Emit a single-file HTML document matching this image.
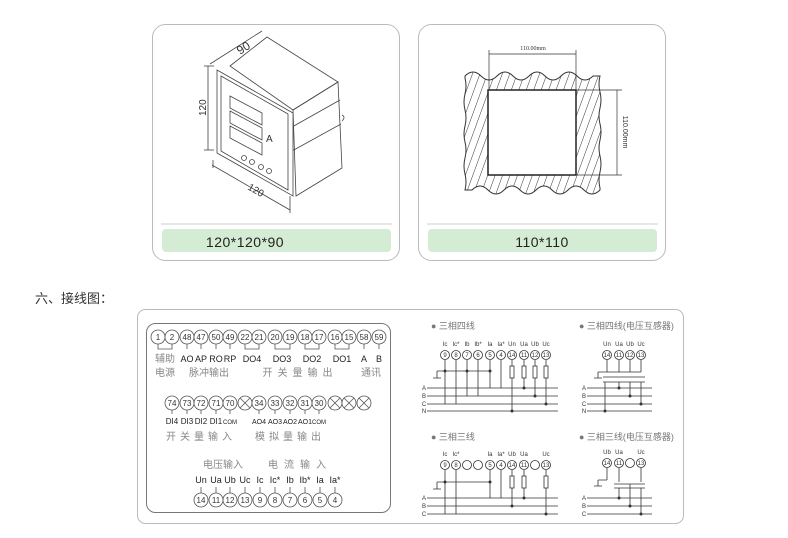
<!DOCTYPE html>
<html><head><meta charset="utf-8"><style>
html,body{margin:0;padding:0;background:#fff;width:788px;height:538px;overflow:hidden}
svg{display:block}
text{font-family:"Liberation Sans","Noto Sans CJK SC",sans-serif}
.n{font-size:8px;text-anchor:middle;fill:#333}
.l{font-size:9px;text-anchor:middle;fill:#222}
.c{font-size:10px;text-anchor:middle;fill:#888}
.s{font-size:6px;text-anchor:middle;fill:#333;font-family:"Liberation Serif",serif}
.t{font-size:9px;fill:#777}
</style></head><body>
<svg width="788" height="538" viewBox="0 0 788 538" xmlns="http://www.w3.org/2000/svg">
<defs>
<pattern id="h" width="7" height="7" patternUnits="userSpaceOnUse" patternTransform="rotate(20)">
<line x1="0" y1="0" x2="0" y2="7" stroke="#333" stroke-width="1"/></pattern>
</defs>
<rect x="152.5" y="24.5" width="247" height="236" rx="13" fill="#fff" stroke="#bbb"/>
<line x1="161" y1="224" x2="392" y2="224" stroke="#ccc"/>
<rect x="162" y="229" width="229" height="23" rx="4" fill="#d3ecd3"/>
<text x="245" y="247" font-size="14" text-anchor="middle" fill="#222" letter-spacing="0.5">120*120*90</text>
<g fill="none" stroke="#444" stroke-width="0.8">
<polygon points="230,66 267,37 338,82 293,110"/>
<polygon points="293,110 338,82 342,168 296,196"/>
<line x1="292" y1="127" x2="340" y2="100"/><line x1="292" y1="151" x2="341" y2="124"/>
<polygon points="217,70 293,113 293,196 217,153" fill="#fff"/>
<polygon points="221,76 288,114 288,190 221,151"/>
<polygon points="230,96 262,113 262,125 230,108"/>
<polygon points="230,111 262,128 262,140 230,123"/>
<polygon points="230,126 262,143 262,155 230,138"/>
<circle cx="244" cy="158" r="2.5"/><circle cx="252" cy="162" r="2.5"/><circle cx="261" cy="167" r="2.5"/><circle cx="269" cy="171" r="2.5"/>
<path d="M342,115 q4,2 0,6"/>
<line x1="210" y1="64" x2="262" y2="31"/>
<line x1="208" y1="66" x2="208" y2="150"/><line x1="204" y1="66" x2="214" y2="66"/><line x1="204" y1="150" x2="214" y2="150"/>
<line x1="212" y1="165" x2="290" y2="210"/><line x1="213" y1="160" x2="213" y2="168"/><line x1="290" y1="196" x2="290" y2="213"/>
</g>
<text x="266" y="142" font-size="10" fill="#333">A</text>
<text x="240" y="55" font-size="12" fill="#333" transform="rotate(-33 240 55)">90</text>
<text x="206" y="116" font-size="10" fill="#333" transform="rotate(-90 206 116)">120</text>
<text x="247" y="189" font-size="10" fill="#333" transform="rotate(30 247 189)">120</text>
<rect x="418.5" y="24.5" width="247" height="236" rx="13" fill="#fff" stroke="#bbb"/>
<line x1="427" y1="224" x2="658" y2="224" stroke="#ccc"/>
<rect x="428" y="229" width="229" height="23" rx="4" fill="#d3ecd3"/>
<text x="542" y="247" font-size="14" text-anchor="middle" fill="#222" letter-spacing="0.5">110*110</text>
<path d="M465,76 q8,-8 16,0 t16,0 t16,0 t16,0 t16,0 t16,0 t16,0 t16,0 L600,76 q-2,8 0,16 t0,16 t0,16 t0,16 t0,16 t0,16 t0,16 L600,190 q-8,8 -16,0 t-16,0 t-16,0 t-16,0 t-16,0 t-16,0 t-16,0 t-16,0 L465,190 q2,-8 0,-16 t0,-16 t0,-16 t0,-16 t0,-16 t0,-16 t0,-16 Z" fill="url(#h)" stroke="#333"/>
<rect x="488" y="90" width="88" height="85" fill="#fff" stroke="#222" stroke-width="1.5"/>
<g stroke="#333" stroke-width="0.7">
<line x1="489" y1="50" x2="489" y2="90"/><line x1="576" y1="50" x2="576" y2="90"/>
<line x1="489" y1="54" x2="576" y2="54"/>
<line x1="576" y1="90" x2="622" y2="90"/><line x1="576" y1="175" x2="622" y2="175"/>
<line x1="617" y1="90" x2="617" y2="175"/>
</g>
<text x="533" y="50" class="s" font-size="7">110.00mm</text>
<text x="623" y="132" font-size="7" fill="#333" text-anchor="middle" font-family="Liberation Serif,serif" transform="rotate(90 623 132)">110.00mm</text>
<text x="35" y="303" font-size="13" fill="#333">六、接线图：</text>
<rect x="137.5" y="309.5" width="546" height="214" rx="8" fill="#fff" stroke="#bbb"/>
<rect x="146.5" y="323.5" width="244" height="189" rx="9" fill="#fff" stroke="#777"/>
<g fill="#fff" stroke="#555" stroke-width="0.8">
<circle cx="158" cy="337" r="7"/><circle cx="172" cy="337" r="7"/><circle cx="187" cy="337" r="7"/><circle cx="201" cy="337" r="7"/><circle cx="216" cy="337" r="7"/><circle cx="230" cy="337" r="7"/><circle cx="245" cy="337" r="7"/><circle cx="259" cy="337" r="7"/><circle cx="275" cy="337" r="7"/><circle cx="290" cy="337" r="7"/><circle cx="305" cy="337" r="7"/><circle cx="319" cy="337" r="7"/><circle cx="335" cy="337" r="7"/><circle cx="349" cy="337" r="7"/><circle cx="364" cy="337" r="7"/><circle cx="379" cy="337" r="7"/>
<circle cx="172" cy="403" r="7"/><circle cx="187" cy="403" r="7"/><circle cx="201" cy="403" r="7"/><circle cx="216" cy="403" r="7"/><circle cx="230" cy="403" r="7"/><circle cx="245" cy="403" r="7"/><circle cx="259" cy="403" r="7"/><circle cx="275" cy="403" r="7"/><circle cx="290" cy="403" r="7"/><circle cx="305" cy="403" r="7"/><circle cx="319" cy="403" r="7"/><circle cx="335" cy="403" r="7"/><circle cx="349" cy="403" r="7"/><circle cx="364" cy="403" r="7"/>
<circle cx="201" cy="500" r="7"/><circle cx="216" cy="500" r="7"/><circle cx="230" cy="500" r="7"/><circle cx="245" cy="500" r="7"/><circle cx="260" cy="500" r="7"/><circle cx="275" cy="500" r="7"/><circle cx="290" cy="500" r="7"/><circle cx="305" cy="500" r="7"/><circle cx="320" cy="500" r="7"/><circle cx="335" cy="500" r="7"/>
</g>
<g stroke="#555" stroke-width="0.8" fill="none">
<path d="M240,398 l10,10 M250,398 l-10,10 M330,398 l10,10 M340,398 l-10,10 M344,398 l10,10 M354,398 l-10,10 M359,398 l10,10 M369,398 l-10,10"/>
<path d="M158,344v5h14v-5 M187,344v5 M201,344v5 M216,344v5 M230,344v5 M245,344v5h14v-5 M275,344v5h15v-5 M305,344v5h14v-5 M335,344v5h14v-5 M364,344v5 M379,344v5"/>
<path d="M172,410v4 M187,410v4 M201,410v4 M216,410v4 M230,410v4 M259,410v4 M275,410v4 M290,410v4 M305,410v4 M319,410v4"/>
<path d="M201,487v6 M216,487v6 M230,487v6 M245,487v6 M260,487v6 M275,487v6 M290,487v6 M305,487v6 M320,487v6 M335,487v6"/>
</g>
<g class="n">
<text x="158" y="340">1</text><text x="172" y="340">2</text><text x="187" y="340">48</text><text x="201" y="340">47</text><text x="216" y="340">50</text><text x="230" y="340">49</text><text x="245" y="340">22</text><text x="259" y="340">21</text><text x="275" y="340">20</text><text x="290" y="340">19</text><text x="305" y="340">18</text><text x="319" y="340">17</text><text x="335" y="340">16</text><text x="349" y="340">15</text><text x="364" y="340">58</text><text x="379" y="340">59</text>
<text x="172" y="406">74</text><text x="187" y="406">73</text><text x="201" y="406">72</text><text x="216" y="406">71</text><text x="230" y="406">70</text><text x="259" y="406">34</text><text x="275" y="406">33</text><text x="290" y="406">32</text><text x="305" y="406">31</text><text x="319" y="406">30</text>
<text x="201" y="503">14</text><text x="216" y="503">11</text><text x="230" y="503">12</text><text x="245" y="503">13</text><text x="260" y="503">9</text><text x="275" y="503">8</text><text x="290" y="503">7</text><text x="305" y="503">6</text><text x="320" y="503">5</text><text x="335" y="503">4</text>
</g>
<g class="l">
<text x="165" y="362" fill="#888" font-size="10">辅助</text><text x="187" y="362">AO</text><text x="201" y="362">AP</text><text x="216" y="362">RO</text><text x="230" y="362">RP</text><text x="252" y="362">DO4</text><text x="282" y="362">DO3</text><text x="312" y="362">DO2</text><text x="342" y="362">DO1</text><text x="364" y="362">A</text><text x="379" y="362">B</text>
<text x="172" y="424" font-size="8">DI4</text><text x="187" y="424" font-size="8">DI3</text><text x="201" y="424" font-size="8">DI2</text><text x="216" y="424" font-size="8">DI1</text><text x="230" y="424" font-size="6">COM</text>
<text x="259" y="424" font-size="7">AO4</text><text x="275" y="424" font-size="7">AO3</text><text x="290" y="424" font-size="7">AO2</text><text x="305" y="424" font-size="7">AO1</text><text x="319" y="424" font-size="6">COM</text>
<text x="201" y="483">Un</text><text x="216" y="483">Ua</text><text x="230" y="483">Ub</text><text x="245" y="483">Uc</text><text x="260" y="483">Ic</text><text x="275" y="483">Ic*</text><text x="290" y="483">Ib</text><text x="305" y="483">Ib*</text><text x="320" y="483">Ia</text><text x="335" y="483">Ia*</text>
</g>
<g class="c">
<text x="165" y="376">电源</text><text x="209" y="376">脉冲输出</text><text x="300" y="376" letter-spacing="5">开关量输出</text><text x="371" y="376">通讯</text>
<text x="201" y="440" letter-spacing="4">开关量输入</text><text x="290" y="440" letter-spacing="4">模拟量输出</text>
<text x="223" y="468">电压输入</text><text x="300" y="468" letter-spacing="6">电流输入</text>
</g>
<g class="t">
<text x="431" y="329">● 三相四线</text><text x="579" y="329">● 三相四线(电压互感器)</text>
<text x="431" y="440">● 三相三线</text><text x="579" y="440">● 三相三线(电压互感器)</text>
</g>
<g stroke="#333" stroke-width="0.8" fill="none">
<path d="M427,388H558 M427,396H558 M427,404H558 M427,411H558"/>
<g fill="#fff"><circle cx="445" cy="355" r="4.5"/><circle cx="456" cy="355" r="4.5"/><circle cx="467" cy="355" r="4.5"/><circle cx="478" cy="355" r="4.5"/><circle cx="490" cy="355" r="4.5"/><circle cx="501" cy="355" r="4.5"/><circle cx="512" cy="355" r="4.5"/><circle cx="524" cy="355" r="4.5"/><circle cx="535" cy="355" r="4.5"/><circle cx="546" cy="355" r="4.5"/></g>
<path d="M445,360V404 M456,360V404 M467,360V396 M478,360V396 M490,360V388 M501,360V388 M445,371H490 M437,371H445 M437,371v7 M433,378h8"/>
<path d="M512,360V411 M524,360V388 M535,360V396 M546,360V404"/>
<g fill="#fff"><rect x="510" y="366" width="4" height="12"/><rect x="522" y="366" width="4" height="12"/><rect x="533" y="366" width="4" height="12"/><rect x="544" y="366" width="4" height="12"/></g>
<path d="M587,388H652 M587,396H652 M587,404H652 M587,411H652"/>
<g fill="#fff"><circle cx="607" cy="355" r="4.5"/><circle cx="619" cy="355" r="4.5"/><circle cx="630" cy="355" r="4.5"/><circle cx="641" cy="355" r="4.5"/></g>
<path d="M607,360V372 M619,360V372 M630,360V372 M641,360V372 M598,372H641 M598,372v6 M594,378h8 M603,377H645 M603,382H645 M605,382V411 M619,382V388 M630,382V396 M641,382V404"/>
<path d="M427,498H558 M427,506H558 M427,514H558"/>
<g fill="#fff"><circle cx="445" cy="465" r="4.5"/><circle cx="456" cy="465" r="4.5"/><circle cx="467" cy="465" r="4.5"/><circle cx="478" cy="465" r="4.5"/><circle cx="490" cy="465" r="4.5"/><circle cx="501" cy="465" r="4.5"/><circle cx="512" cy="465" r="4.5"/><circle cx="524" cy="465" r="4.5"/><circle cx="535" cy="465" r="4.5"/><circle cx="546" cy="465" r="4.5"/></g>
<path d="M445,470V514 M456,470V514 M490,470V498 M501,470V498 M445,482H490 M437,482v7 M433,489h8 M437,482H445 M512,470V506 M524,470V498 M546,470V514"/>
<g fill="#fff"><rect x="510" y="476" width="4" height="12"/><rect x="522" y="476" width="4" height="12"/><rect x="544" y="476" width="4" height="12"/></g>
<path d="M587,498H652 M587,506H652 M587,514H652"/>
<g fill="#fff"><circle cx="607" cy="463" r="4.5"/><circle cx="619" cy="463" r="4.5"/><circle cx="630" cy="463" r="4.5"/><circle cx="641" cy="463" r="4.5"/></g>
<path d="M607,468V480 M619,468V482 M641,468V482 M598,480H607 M598,480v6 M594,486h8 M619,488V498 M630,484V506 M641,488V514 M614,488H645 M614,484H645"/>
</g>
<g fill="#333">
<circle cx="445" cy="371" r="1.5"/><circle cx="467" cy="371" r="1.5"/><circle cx="490" cy="371" r="1.5"/><circle cx="512" cy="411" r="1.5"/><circle cx="524" cy="388" r="1.5"/><circle cx="535" cy="396" r="1.5"/><circle cx="546" cy="404" r="1.5"/>
<circle cx="605" cy="411" r="1.5"/><circle cx="619" cy="388" r="1.5"/><circle cx="630" cy="396" r="1.5"/><circle cx="641" cy="404" r="1.5"/>
<circle cx="445" cy="482" r="1.5"/><circle cx="490" cy="482" r="1.5"/><circle cx="512" cy="506" r="1.5"/><circle cx="524" cy="498" r="1.5"/><circle cx="546" cy="514" r="1.5"/>
<circle cx="619" cy="498" r="1.5"/><circle cx="630" cy="506" r="1.5"/><circle cx="641" cy="514" r="1.5"/>
</g>
<g class="s" font-size="5">
<text x="445" y="346">Ic</text><text x="456" y="346">Ic*</text><text x="467" y="346">Ib</text><text x="478" y="346">Ib*</text><text x="490" y="346">Ia</text><text x="501" y="346">Ia*</text><text x="512" y="346">Un</text><text x="524" y="346">Ua</text><text x="535" y="346">Ub</text><text x="546" y="346">Uc</text>
<text x="607" y="346">Un</text><text x="619" y="346">Ua</text><text x="630" y="346">Ub</text><text x="641" y="346">Uc</text>
<text x="445" y="456">Ic</text><text x="456" y="456">Ic*</text><text x="490" y="456">Ia</text><text x="501" y="456">Ia*</text><text x="512" y="456">Ub</text><text x="524" y="456">Ua</text><text x="546" y="456">Uc</text>
<text x="607" y="454">Ub</text><text x="619" y="454">Ua</text><text x="641" y="454">Uc</text>
<text x="424" y="390">A</text><text x="424" y="398">B</text><text x="424" y="406">C</text><text x="424" y="413">N</text>
<text x="584" y="390">A</text><text x="584" y="398">B</text><text x="584" y="406">C</text><text x="584" y="413">N</text>
<text x="424" y="500">A</text><text x="424" y="508">B</text><text x="424" y="516">C</text>
<text x="584" y="500">A</text><text x="584" y="508">B</text><text x="584" y="516">C</text>
</g>
<g class="s" font-size="5">
<text x="445" y="357">9</text><text x="456" y="357">8</text><text x="467" y="357">7</text><text x="478" y="357">6</text><text x="490" y="357">5</text><text x="501" y="357">4</text><text x="512" y="357">14</text><text x="524" y="357">11</text><text x="535" y="357">12</text><text x="546" y="357">13</text>
<text x="607" y="357">14</text><text x="619" y="357">11</text><text x="630" y="357">12</text><text x="641" y="357">13</text>
<text x="445" y="467">9</text><text x="456" y="467">8</text><text x="490" y="467">5</text><text x="501" y="467">4</text><text x="512" y="467">14</text><text x="524" y="467">11</text><text x="546" y="467">13</text>
<text x="607" y="465">14</text><text x="619" y="465">11</text><text x="641" y="465">13</text>
</g>
</svg>
</body></html>
